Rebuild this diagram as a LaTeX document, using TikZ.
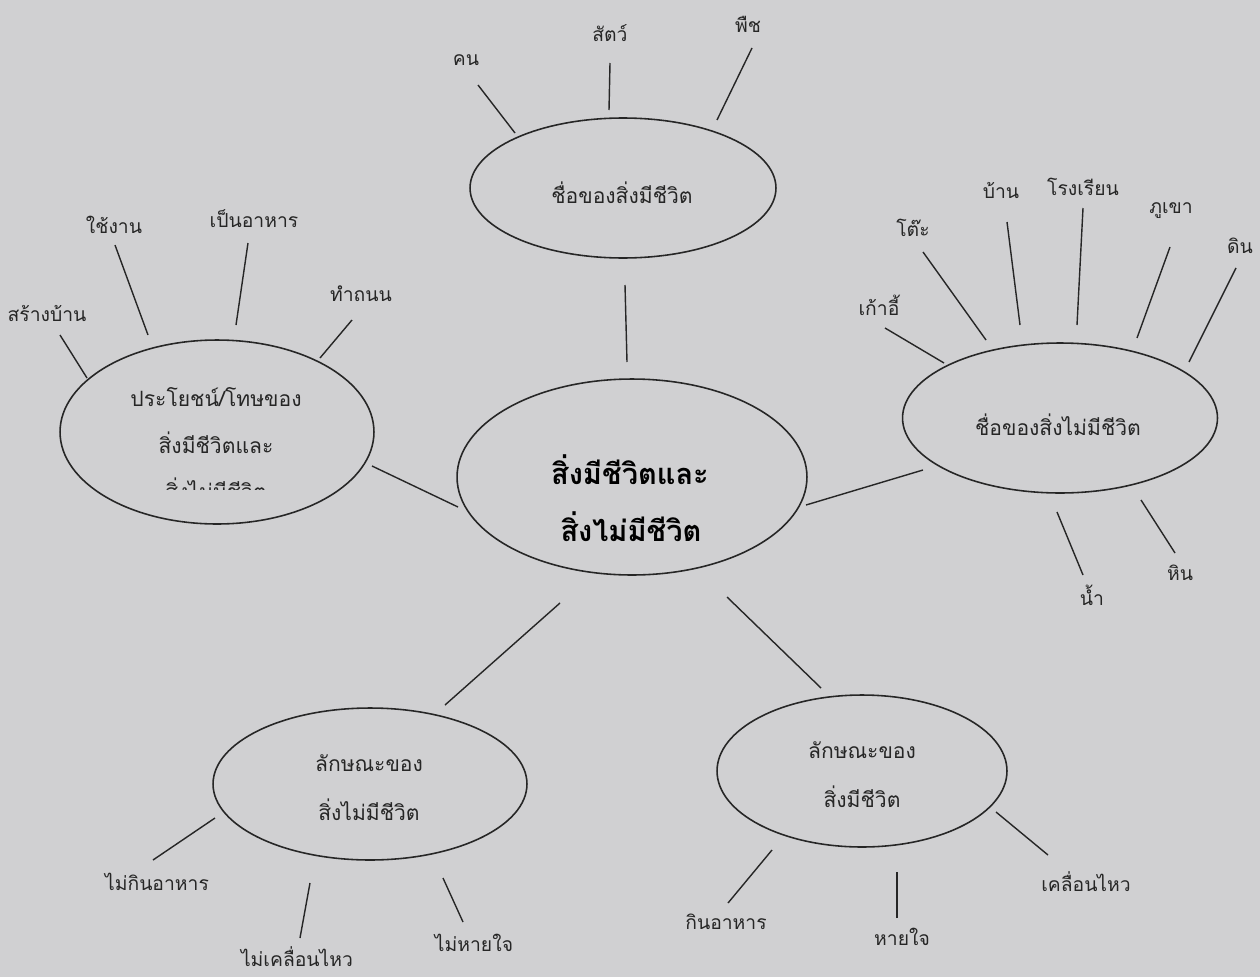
\documentclass[tikz,border=0pt]{standalone}
\usepackage{fontspec}
\newfontfamily\thai[Script=Thai]{Loma}
\usetikzlibrary{shapes.geometric}
\definecolor{paper}{RGB}{208,208,210}
\definecolor{ink}{RGB}{38,38,38}
\begin{document}
\begin{tikzpicture}[x=0.02cm,y=-0.02cm,
  bub/.style={draw=ink, line width=0.9pt, ellipse, inner sep=0pt},
  btext/.style={text=ink, inner sep=0pt, font=\thai\fontsize{12}{14}\selectfont},
  ctext/.style={text=black, inner sep=0pt, font=\thai\bfseries\fontsize{16.5}{19}\selectfont},
  lab/.style={text=ink, inner sep=0pt, font=\thai\fontsize{11}{13}\selectfont},
  link/.style={draw=ink, line width=0.8pt}]
\fill[paper] (0,0) rectangle (1260,977);
\useasboundingbox (0,0) rectangle (1260,977);

% bubbles
\node[bub, minimum width=6.12cm, minimum height=2.8cm] (top) at (623,188) {};
\node[bub, minimum width=7cm, minimum height=3.92cm] (mid) at (632,477) {};
\node[bub, minimum width=6.28cm, minimum height=3.68cm] (left) at (217,432) {};
\node[bub, minimum width=6.3cm, minimum height=3cm] (right) at (1060,418) {};
\node[bub, minimum width=6.28cm, minimum height=3.04cm] (bl) at (370,784) {};
\node[bub, minimum width=5.8cm, minimum height=3.04cm] (br) at (862,771) {};

% bubble texts
\node[btext] (topt) at (622,193) {ชื่อของสิ่งมีชีวิต};
\node[ctext] (midt1) at (630,470) {สิ่งมีชีวิตและ};
\node[ctext] (midt2) at (631,527) {สิ่งไม่มีชีวิต};
\node[btext] (leftt1) at (216,397) {ประโยชน์/โทษของ};
\node[btext] (leftt2) at (216,443) {สิ่งมีชีวิตและ};
\begin{scope}
\clip (100,470) rectangle (340,489);
\node[btext] (leftt3) at (216,489) {สิ่งไม่มีชีวิต};
\end{scope}
\node[btext] (rightt) at (1058,425) {ชื่อของสิ่งไม่มีชีวิต};
\node[btext] (blt1) at (369,763) {ลักษณะของ};
\node[btext] (blt2) at (369,810) {สิ่งไม่มีชีวิต};
\node[btext] (brt1) at (862,750) {ลักษณะของ};
\node[btext] (brt2) at (862,797) {สิ่งมีชีวิต};

% connectors between bubbles
\coordinate (c1a) at (625,285); \coordinate (c1b) at (627,362);
\coordinate (c2a) at (372,466); \coordinate (c2b) at (458,507);
\coordinate (c3a) at (923,470); \coordinate (c3b) at (806,505);
\coordinate (c4a) at (560,603); \coordinate (c4b) at (445,705);
\coordinate (c5a) at (727,597); \coordinate (c5b) at (821,688);
\draw[link] (c1a) -- (c1b);
\draw[link] (c2a) -- (c2b);
\draw[link] (c3a) -- (c3b);
\draw[link] (c4a) -- (c4b);
\draw[link] (c5a) -- (c5b);

% top spokes
\node[lab] (kon) at (466,60) {คน};
\node[lab] (sat) at (610,33) {สัตว์};
\node[lab] (phuet) at (748,24) {พืช};
\coordinate (s1a) at (478,85); \coordinate (s1b) at (515,133);
\coordinate (s2a) at (610,63); \coordinate (s2b) at (609,110);
\coordinate (s3a) at (752,48); \coordinate (s3b) at (717,120);
\draw[link] (s1a) -- (s1b);
\draw[link] (s2a) -- (s2b);
\draw[link] (s3a) -- (s3b);

% left spokes
\node[lab] (sangban) at (47,313) {สร้างบ้าน};
\node[lab] (chingan) at (114,225) {ใช้งาน};
\node[lab] (penahan) at (254,219) {เป็นอาหาร};
\node[lab] (thamthanon) at (361,294) {ทำถนน};
\coordinate (l1a) at (60,335); \coordinate (l1b) at (87,378);
\coordinate (l2a) at (115,245); \coordinate (l2b) at (148,335);
\coordinate (l3a) at (248,243); \coordinate (l3b) at (236,325);
\coordinate (l4a) at (352,320); \coordinate (l4b) at (320,358);
\draw[link] (l1a) -- (l1b);
\draw[link] (l2a) -- (l2b);
\draw[link] (l3a) -- (l3b);
\draw[link] (l4a) -- (l4b);

% right spokes
\node[lab] (kaoi) at (879,305) {เก้าอี้};
\node[lab] (to) at (913,228) {โต๊ะ};
\node[lab] (ban) at (1001,190) {บ้าน};
\node[lab] (rongrian) at (1083,187) {โรงเรียน};
\node[lab] (phukhao) at (1171,211) {ภูเขา};
\node[lab] (din) at (1240,246) {ดิน};
\node[lab] (nam) at (1092,595) {น้ำ};
\node[lab] (hin) at (1180,573) {หิน};
\coordinate (r1a) at (885,328); \coordinate (r1b) at (944,363);
\coordinate (r2a) at (923,252); \coordinate (r2b) at (986,340);
\coordinate (r3a) at (1007,222); \coordinate (r3b) at (1020,325);
\coordinate (r4a) at (1083,208); \coordinate (r4b) at (1077,325);
\coordinate (r5a) at (1170,247); \coordinate (r5b) at (1137,338);
\coordinate (r6a) at (1236,268); \coordinate (r6b) at (1189,362);
\coordinate (r7a) at (1057,512); \coordinate (r7b) at (1083,575);
\coordinate (r8a) at (1141,500); \coordinate (r8b) at (1175,553);
\draw[link] (r1a) -- (r1b);
\draw[link] (r2a) -- (r2b);
\draw[link] (r3a) -- (r3b);
\draw[link] (r4a) -- (r4b);
\draw[link] (r5a) -- (r5b);
\draw[link] (r6a) -- (r6b);
\draw[link] (r7a) -- (r7b);
\draw[link] (r8a) -- (r8b);

% bottom-left spokes
\node[lab] (maikin) at (157,882) {ไม่กินอาหาร};
\node[lab] (maikhluean) at (297,957) {ไม่เคลื่อนไหว};
\node[lab] (maihai) at (474,943) {ไม่หายใจ};
\coordinate (b1a) at (153,860); \coordinate (b1b) at (215,818);
\coordinate (b2a) at (300,938); \coordinate (b2b) at (310,883);
\coordinate (b3a) at (463,922); \coordinate (b3b) at (443,878);
\draw[link] (b1a) -- (b1b);
\draw[link] (b2a) -- (b2b);
\draw[link] (b3a) -- (b3b);

% bottom-right spokes
\node[lab] (kin) at (726,922) {กินอาหาร};
\node[lab] (haichai) at (902,937) {หายใจ};
\node[lab] (khluean) at (1086,882) {เคลื่อนไหว};
\coordinate (d1a) at (728,903); \coordinate (d1b) at (772,850);
\coordinate (d2a) at (897,918); \coordinate (d2b) at (897,872);
\coordinate (d3a) at (1048,855); \coordinate (d3b) at (996,812);
\draw[link] (d1a) -- (d1b);
\draw[link] (d2a) -- (d2b);
\draw[link] (d3a) -- (d3b);
\end{tikzpicture}
\end{document}
